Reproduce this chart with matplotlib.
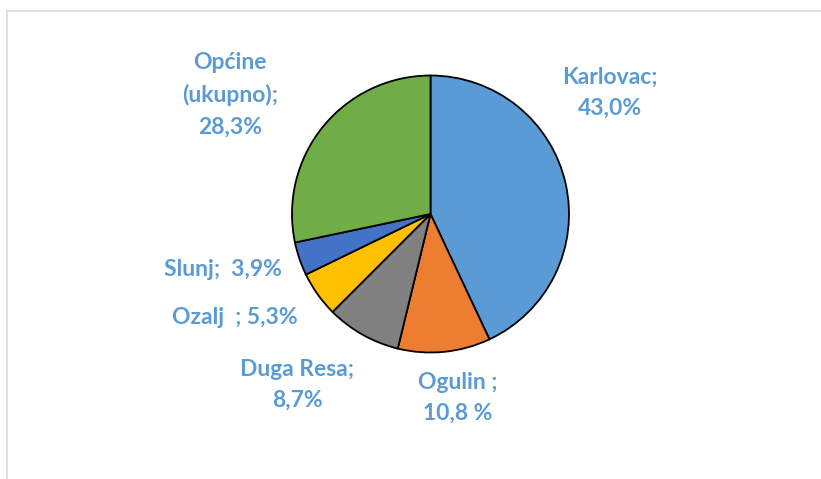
import matplotlib.pyplot as plt
from matplotlib.lines import Line2D

# data
labels = ["Karlovac;\n43,0%", "Ogulin ;\n10,8 %", "Duga Resa;\n8,7%",
          "Ozalj  ; 5,3%", "Slunj;  3,9%", "Općine\n(ukupno);\n28,3%"]
values = [43.0, 10.8, 8.7, 5.3, 3.9, 28.3]
colors = ["#5B9BD5", "#ED7D31", "#808080", "#FFC000", "#4472C4", "#70AD47"]

# label positions in pixel units (x from left, y from top)
label_pos = [(610, 93), (458, 398), (297, 385), (235, 318), (223, 270), (230, 95)]

W, H = 821, 479
fig = plt.figure(figsize=(W / 100, H / 100), dpi=100)
ax = fig.add_axes([0, 0, 1, 1])

ax.pie(values, colors=colors, startangle=90, counterclock=False,
       center=(430.5, H - 214), radius=138.5, frame=True,
       wedgeprops=dict(edgecolor="black", linewidth=1.3))
ax.set_xlim(0, W)
ax.set_ylim(0, H)
ax.axis("off")

for lab, (x, y) in zip(labels, label_pos):
    ax.text(x, H - y, lab, ha="center", va="center", color="#5B9BD5",
            fontsize=16.5, fontweight="bold", family="Lato", linespacing=1.6)

# chart border (top and left edges visible)
fig.add_artist(Line2D([7 / W, 1], [1 - 11 / H, 1 - 11 / H], color="#D9D9D9", lw=1.2))
fig.add_artist(Line2D([7 / W, 7 / W], [1 - 11 / H, 0], color="#D9D9D9", lw=1.2))

fig.savefig("out.png", dpi=100)
